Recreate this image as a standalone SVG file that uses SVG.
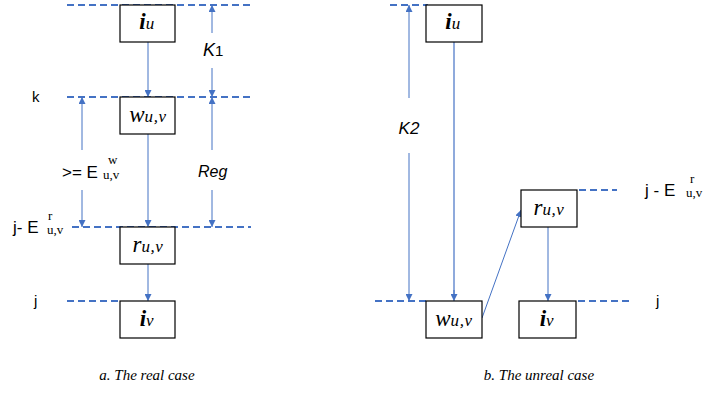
<svg xmlns="http://www.w3.org/2000/svg" width="704" height="394" viewBox="0 0 704 394">
<defs>
<marker id="ah" viewBox="0 0 10 10" refX="10" refY="5" markerWidth="7" markerHeight="7" markerUnits="userSpaceOnUse" orient="auto-start-reverse"><path d="M0,0 L10,5 L0,10 z" fill="#4472C4"/></marker>
</defs>
<style>
.dash{stroke:#4472C4;stroke-width:2;stroke-dasharray:7 4;fill:none}
.arr{stroke:#4472C4;stroke-width:1;fill:none}
.arrl{stroke:#8FAADC;stroke-width:2;fill:none}
.box{fill:#fff;stroke:#000;stroke-width:1.2}
.nt{font-family:"Liberation Serif",serif;font-style:italic;fill:#000}
.big{font-size:23px}
.sub{font-size:17px;letter-spacing:0.6px}
.lab{font-family:"Liberation Sans",Arial,sans-serif;fill:#000}
.s13{font-size:15px}
.s17{font-size:17px}
.sm{font-family:"Liberation Serif",serif;font-size:13px;fill:#000}
.cap{font-family:"Liberation Serif",serif;font-style:italic;font-size:15px;fill:#000}
</style>
<rect width="704" height="394" fill="#fff"/>
<g id="guides">
<line class="dash" x1="67" y1="5" x2="251" y2="5"/>
<line class="dash" x1="67" y1="97" x2="251" y2="97"/>
<line class="dash" x1="72" y1="227" x2="251" y2="227"/>
<line class="dash" x1="67" y1="301" x2="120" y2="301"/>
<line class="dash" x1="390" y1="5" x2="428" y2="5"/>
<line class="dash" x1="579" y1="190" x2="617" y2="190"/>
<line class="dash" x1="375" y1="301" x2="426" y2="301"/>
<line class="dash" x1="578" y1="301" x2="631" y2="301"/>
</g>
<g id="connectors">
<line class="arr" x1="148" y1="42" x2="148" y2="97" marker-end="url(#ah)"/>
<line class="arr" x1="148" y1="134" x2="148" y2="227" marker-end="url(#ah)"/>
<line class="arr" x1="148" y1="264" x2="148" y2="301" marker-end="url(#ah)"/>
<line class="arr" x1="212" y1="33" x2="212" y2="5" marker-end="url(#ah)"/>
<line class="arr" x1="212" y1="68" x2="212" y2="97" marker-end="url(#ah)"/>
<line class="arr" x1="212" y1="150" x2="212" y2="97" marker-end="url(#ah)"/>
<line class="arr" x1="212" y1="190" x2="212" y2="227" marker-end="url(#ah)"/>
<line class="arr" x1="82" y1="150" x2="82" y2="97" marker-end="url(#ah)"/>
<line class="arr" x1="82" y1="190" x2="82" y2="227" marker-end="url(#ah)"/>
<line class="arr" x1="409" y1="98" x2="409" y2="5" marker-end="url(#ah)"/>
<line class="arr" x1="409" y1="153" x2="409" y2="301" marker-end="url(#ah)"/>
<line class="arrl" x1="454" y1="42" x2="454" y2="297"/>
<line class="arr" x1="454" y1="290" x2="454" y2="301" marker-end="url(#ah)"/>
<line class="arr" x1="482" y1="318" x2="521" y2="210" marker-end="url(#ah)"/>
<line class="arr" x1="548" y1="227" x2="548" y2="301" marker-end="url(#ah)"/>
</g>
<g id="a_iu"><rect class="box" x="120" y="5" width="55" height="37"/><text class="nt" x="147" y="29" text-anchor="middle"><tspan class="big" font-weight="bold">i</tspan><tspan class="sub">u</tspan></text></g>
<g id="a_w"><rect class="box" x="120" y="97" width="55" height="37"/><text class="nt" x="148" y="122" text-anchor="middle"><tspan class="big">w</tspan><tspan class="sub">u,v</tspan></text></g>
<g id="a_r"><rect class="box" x="120" y="227" width="55" height="37"/><text class="nt" x="148" y="252" text-anchor="middle"><tspan class="big">r</tspan><tspan class="sub">u,v</tspan></text></g>
<g id="a_iv"><rect class="box" x="120" y="301" width="55" height="37"/><text class="nt" x="147" y="326" text-anchor="middle"><tspan class="big" font-weight="bold">i</tspan><tspan class="sub">v</tspan></text></g>
<g id="b_iu"><rect class="box" x="426" y="5" width="56" height="37"/><text class="nt" x="453" y="29" text-anchor="middle"><tspan class="big" font-weight="bold">i</tspan><tspan class="sub">u</tspan></text></g>
<g id="b_r"><rect class="box" x="521" y="190" width="56" height="37"/><text class="nt" x="549" y="215" text-anchor="middle"><tspan class="big">r</tspan><tspan class="sub">u,v</tspan></text></g>
<g id="b_w"><rect class="box" x="426" y="301" width="56" height="37"/><text class="nt" x="454" y="326" text-anchor="middle"><tspan class="big">w</tspan><tspan class="sub">u,v</tspan></text></g>
<g id="b_iv"><rect class="box" x="519" y="301" width="57" height="37"/><text class="nt" x="547" y="326" text-anchor="middle"><tspan class="big" font-weight="bold">i</tspan><tspan class="sub">v</tspan></text></g>
<g id="labels">
<text class="lab s13" x="32" y="102">k</text>
<text class="lab s13" x="34" y="306">j</text>
<text class="lab s17" x="62" y="178">&gt;= E</text>
<text class="sm" x="108" y="164">w</text>
<text class="sm" x="103" y="179">u,v</text>
<text class="lab s17" x="13" y="233">j- E</text>
<text class="sm" x="48" y="220">r</text>
<text class="sm" x="47" y="234">u,v</text>
<text class="lab s17" x="645" y="196">j -  E</text>
<text class="sm" x="690" y="183">r</text>
<text class="sm" x="686" y="197">u,v</text>
<text class="lab s13" x="656" y="306">j</text>
<text class="lab" x="203" y="56" font-size="18" font-style="italic">K<tspan font-style="normal" font-size="15">1</tspan></text>
<text class="lab" x="198" y="177" font-size="16" font-style="italic">Reg</text>
<text class="lab" x="409" y="134" font-size="17" font-style="italic" text-anchor="middle">K2</text>
<text class="cap" x="147" y="380" text-anchor="middle">a. The real case</text>
<text class="cap" x="539" y="380" text-anchor="middle">b. The unreal case</text>
</g>
</svg>
